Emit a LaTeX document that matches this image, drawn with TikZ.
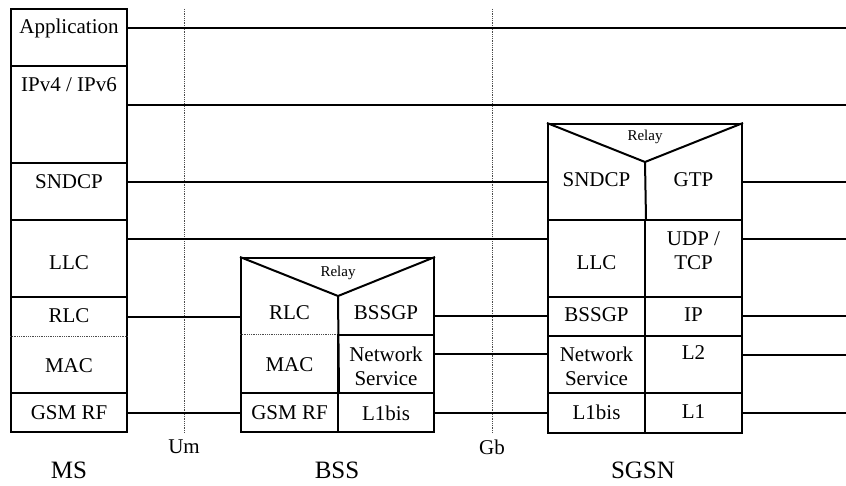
\documentclass[tikz,border=0pt]{standalone}
\usepackage{fontspec}
\setmainfont{Liberation Serif}
\usetikzlibrary{positioning}
\tikzstyle{cell}=[rectangle, draw, line width=2pt, inner sep=0pt]
\tikzstyle{txt}=[inner sep=0pt, align=center, font=\fontsize{21}{24}\selectfont]
\tikzstyle{relay}=[inner sep=0pt, font=\fontsize{15}{17}\selectfont]
\tikzstyle{entity}=[inner sep=0pt, font=\fontsize{25}{28}\selectfont]
\tikzstyle{split}=[densely dotted, line width=0.8pt, black!70]
\tikzstyle{wall}=[line width=2pt, line join=miter]
\newcommand{\layer}[5]{\node[cell, minimum width={(#4-#2)*1pt}, minimum height={(#5-#3)*1pt}] (#1) at ({(#2+#4)/2},{(#3+#5)/2}) {};}

\begin{document}
\begin{tikzpicture}[x=1pt, y=-1pt,
	every edge/.style={draw, line width=1.5pt}
	]
	\useasboundingbox (0,0) rectangle (846,486);
	\coordinate (rim) at (846,0);
	% MS
	\layer{msapp}{11}{9}{127}{66}
	\layer{msip}{11}{66}{127}{163}
	\layer{mssnd}{11}{163}{127}{220}
	\layer{msllc}{11}{220}{127}{297}
	\layer{msrlc}{11}{297}{127}{393}
	\layer{msrf}{11}{393}{127}{432}
	\draw[split] (msrlc.west |- 0,336) -- (msrlc.east |- 0,336);
	\node[txt] (tapp) at (69,28) {Application};
	\node[txt] (tip) at (69,85) {IPv4 / IPv6};
	\node[txt] (tsnd) at (69,182) {SNDCP};
	\node[txt] (tllc) at (69,263) {LLC};
	\node[txt] (trlc) at (69,316) {RLC};
	\node[txt] (tmac) at (69,366) {MAC};
	\node[txt] (trf) at (69,413) {GSM RF};
	\node[entity] (ms) at (69,470) {MS};
	% BSS
	\layer{bss}{241}{258}{434}{432}
	\layer{bssns}{338}{335}{434}{393}
	\layer{bssrf}{241}{393}{338}{432}
	\layer{bssl1}{338}{393}{434}{432}
	\coordinate (bssv) at (338,296);
	\draw[wall] (bss.north west) -- (bssv) -- (bss.north east);
	\draw[wall] (bssv) -- (bssrf.north east);
	\draw[split] (bss.west |- bssns.north) -- (bssns.north west);
	\node[relay] (brelay) at (338,273) {Relay};
	\node[txt] (brlc) at (289.5,313) {RLC};
	\node[txt] (bgp) at (386,313) {BSSGP};
	\node[txt] (bmac) at (289.5,365) {MAC};
	\node[txt] (bns) at (386,366) {Network\\Service};
	\node[txt] (brf) at (289.5,413) {GSM RF};
	\node[txt] (bl1) at (386,413) {L1bis};
	\node[entity] (bsslbl) at (337,470) {BSS};
	% SGSN
	\layer{sgsn}{548}{124}{742}{433}
	\layer{sgllc}{548}{220}{645}{297}
	\layer{sgudp}{645}{220}{742}{297}
	\layer{sggp}{548}{297}{645}{336}
	\layer{sgip}{645}{297}{742}{336}
	\layer{sgns}{548}{336}{645}{393}
	\layer{sgl2}{645}{336}{742}{393}
	\layer{sgl1b}{548}{393}{645}{433}
	\layer{sgl1}{645}{393}{742}{433}
	\coordinate (sgv) at (645,162);
	\draw[wall] (sgsn.north west) -- (sgv) -- (sgsn.north east);
	\draw[wall] (sgv) -- (sgllc.north east);
	\node[relay] (srelay) at (645,137) {Relay};
	\node[txt] (ssnd) at (596.5,180) {SNDCP};
	\node[txt] (sgtp) at (693.5,180) {GTP};
	\node[txt] (sllc) at (596.5,263) {LLC};
	\node[txt] (sudp) at (693.5,251) {UDP /\\TCP};
	\node[txt] (sgp) at (596.5,315) {BSSGP};
	\node[txt] (sip) at (693.5,315) {IP};
	\node[txt] (sns) at (596.5,366) {Network\\Service};
	\node[txt] (sl2) at (693.5,353) {L2};
	\node[txt] (sl1b) at (596.5,412) {L1bis};
	\node[txt] (sl1) at (693.5,412) {L1};
	\node[entity] (sgsnlbl) at (643,470) {SGSN};
	% interfaces
	\node[txt] (um) at (184,447) {Um};
	\node[txt] (gb) at (492,447) {Gb};
	\draw[split] (um |- 0,9) -- (um |- msrf.south);
	\draw[split] (gb |- 0,9) -- (gb |- msrf.south);
	\path
	(msapp.east |- tapp) edge (rim |- tapp)
	(msip.east |- 0,105) edge (rim |- 0,105)
	(mssnd.east |- tsnd) edge (sgsn.west |- tsnd)
	(msllc.east |- 0,239) edge (sgsn.west |- 0,239)
	(msrlc.east |- 0,317) edge (bss.west |- 0,317)
	(msrf.east |- trf) edge (bss.west |- trf)
	(bss.east |- 0,316) edge (sgsn.west |- 0,316)
	(bss.east |- 0,354) edge (sgsn.west |- 0,354)
	(bss.east |- bl1) edge (sgsn.west |- bl1)
	(sgsn.east |- 0,182) edge (rim |- 0,182)
	(sgsn.east |- 0,239) edge (rim |- 0,239)
	(sgsn.east |- 0,316) edge (rim |- 0,316)
	(sgsn.east |- 0,355) edge (rim |- 0,355)
	(sgsn.east |- 0,413) edge (rim |- 0,413)
	;
\end{tikzpicture}
\end{document}
